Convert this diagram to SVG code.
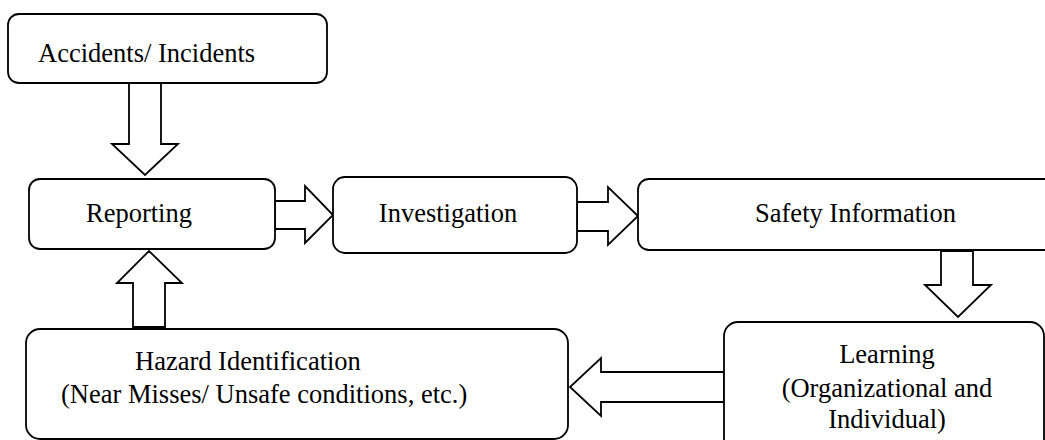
<svg xmlns="http://www.w3.org/2000/svg" width="1045" height="440" viewBox="0 0 1045 440">
  <style>
    .box { fill: #ffffff; stroke: #000000; stroke-width: 1.8; }
    .arrow { fill: #ffffff; stroke: #000000; stroke-width: 1.8; stroke-linejoin: miter; }
    .label { font-family: "Liberation Serif", "Times New Roman", serif; font-size: 26.5px; fill: #000000; }
    .mid { text-anchor: middle; }
  </style>
  <rect width="1045" height="440" fill="#ffffff"/>

  <!-- block arrows between the steps -->
  <g id="connectors">
    <!-- Accidents / Incidents down to Reporting -->
    <polygon class="arrow" points="129,83 161,83 161,144 178,144 145,175 112,144 129,144"/>
    <!-- Reporting right to Investigation -->
    <polygon class="arrow" points="275,201 305,201 305,186 333,215 305,243 305,229 275,229"/>
    <!-- Investigation right to Safety Information -->
    <polygon class="arrow" points="577,202 608,202 608,187 638,216 608,245 608,231 577,231"/>
    <!-- Safety Information down to Learning -->
    <polygon class="arrow" points="941,251 973,251 973,285 991,285 958,317 925,285 941,285"/>
    <!-- Learning left to Hazard Identification -->
    <polygon class="arrow" points="724,372 601,372 601,358 570,387 601,416 601,402 724,402"/>
    <!-- Hazard Identification up to Reporting -->
    <polygon class="arrow" points="133,327 165,327 165,283 182,283 149,251 117,283 133,283"/>
  </g>

  <g id="accidents">
    <rect class="box" x="8" y="14" width="319" height="69" rx="11"/>
    <text class="label" x="38" y="62">Accidents/ Incidents</text>
  </g>

  <g id="reporting">
    <rect class="box" x="29" y="179" width="246" height="70" rx="11"/>
    <text class="label mid" x="139" y="222">Reporting</text>
  </g>

  <g id="investigation">
    <rect class="box" x="333" y="177" width="244" height="76" rx="12"/>
    <text class="label mid" x="448" y="222">Investigation</text>
  </g>

  <g id="safety-information">
    <rect class="box" x="638" y="179" width="420" height="71" rx="11"/>
    <text class="label mid" x="855.5" y="222">Safety Information</text>
  </g>

  <g id="learning">
    <rect class="box" x="724" y="322" width="320" height="140" rx="14"/>
    <text class="label mid" x="887" y="363">Learning</text>
    <text class="label mid" x="887" y="397">(Organizational and</text>
    <text class="label mid" x="887" y="428">Individual)</text>
  </g>

  <g id="hazard-identification">
    <rect class="box" x="26" y="329" width="542" height="110" rx="14"/>
    <text class="label" x="135" y="370">Hazard Identification</text>
    <text class="label" x="61" y="403">(Near Misses/ Unsafe conditions, etc.)</text>
  </g>
</svg>
